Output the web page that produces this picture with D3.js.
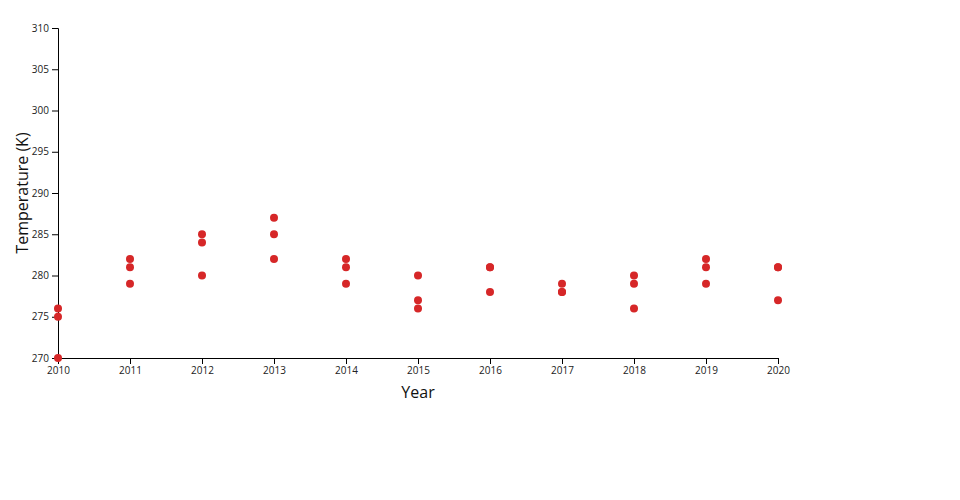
<!DOCTYPE html>
<html><head><meta charset="utf-8">
<script src="https://cdn.jsdelivr.net/npm/d3@7"></script>
<style>
body{margin:0;background:#fff;font-family:"Open Sans",sans-serif;}
.tick text{font-family:"Open Sans",sans-serif;font-size:10px;fill:#222;}
</style></head><body>
<svg id="chart" width="960" height="500"></svg>
<script>
const years = [2010,2010,2010,2011,2011,2011,2012,2012,2012,2013,2013,2013,2014,2014,2014,2015,2015,2015,2016,2016,2016,2017,2017,2017,2018,2018,2018,2019,2019,2019,2020,2020,2020];
const temps = [276,275,270,282,281,279,285,284,280,287,285,282,282,281,279,280,277,276,281,281,278,279,278,278,280,279,276,282,281,279,281,277,281];
const yTicks = [270,275,280,285,290,295,300,305,310];
const xTicks = [2010,2011,2012,2013,2014,2015,2016,2017,2018,2019,2020];

const margin = {left:58, top:28, width:720, height:330};
const svg = d3.select("#chart");
const g = svg.append("g").attr("transform",`translate(${margin.left},${margin.top})`);
const x = d3.scaleLinear().domain([2010,2020]).range([0,margin.width]);
const y = d3.scaleLinear().domain([270,310]).range([margin.height,0]);

g.append("g").attr("transform",`translate(0,${margin.height})`)
  .call(d3.axisBottom(x).tickValues(xTicks).tickFormat(d3.format("d")));
g.append("g").call(d3.axisLeft(y).tickValues(yTicks));

g.selectAll("circle").data(years.map((yr,i)=>({yr,t:temps[i]}))).enter()
  .append("circle").attr("cx",d=>x(d.yr)).attr("cy",d=>y(d.t)).attr("r",4)
  .attr("fill","#d62728");

svg.append("text").attr("x",margin.left+margin.width/2).attr("y",398)
  .attr("text-anchor","middle").style("font-size","16px").style("fill","#111").text("Year");
svg.append("text").attr("transform",`translate(28,${margin.top+margin.height/2}) rotate(-90)`)
  .attr("text-anchor","middle").style("font-size","16px").style("fill","#111").text("Temperature (K)");
</script></body></html>
